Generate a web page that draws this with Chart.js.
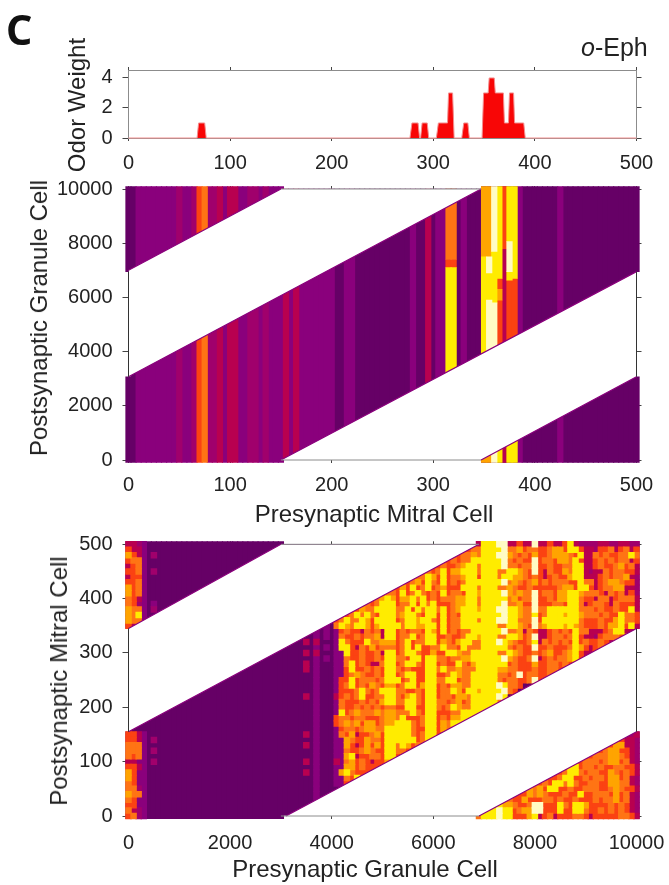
<!DOCTYPE html>
<html>
<head>
<meta charset="utf-8">
<title>o-Eph</title>
<script src="https://cdn.jsdelivr.net/npm/chart.js@4/dist/chart.umd.js"></script>
<style>
    html, body { margin: 0; padding: 0; background: #fff; }
    #page { position: relative; width: 669px; height: 885px; overflow: hidden; font-family: "Liberation Sans", Arial, sans-serif; color: #222; }
    canvas { position: absolute; left: 0; }
    .note { position: absolute; white-space: nowrap; }
    .title { font-size: 24px; transform: translate(-50%, -50%); }
    .title.up { transform: translate(-50%, -50%) rotate(-90deg); }
</style>
</head>
<body>
<div id="page">
    <canvas id="odorChart" width="669" height="143" style="top:40px"></canvas>
    <canvas id="mitralChart" width="669" height="360" style="top:165px"></canvas>
    <canvas id="granuleChart" width="669" height="360" style="top:525px"></canvas>

    <div class="note" style="left:6px;top:1px;font:bold 41px 'Noto Sans';color:#111">C</div>
    <div class="note" style="left:581px;top:33px;font-size:25px"><i>o</i>-Eph</div>
    <div class="note title up" style="left:77px;top:105px">Odor Weight</div>
    <div class="note title up" style="left:39px;top:318px">Postsynaptic Granule Cell</div>
    <div class="note title" style="left:374px;top:514px">Presynaptic Mitral Cell</div>
    <div class="note title up" style="left:59px;top:681px">Postsynaptic Mitral Cell</div>
    <div class="note title" style="left:365px;top:869px">Presynaptic Granule Cell</div>
</div>

<script>
const mitralTicks = [0, 100, 200, 300, 400, 500];
const granuleTicks = [0, 2000, 4000, 6000, 8000, 10000];
const weightTicks = [0, 2, 4];

const odorCell = [0, 67.5, 69, 75, 76.5, 277, 279, 285, 286.5, 287.5, 289, 294, 295.5, 303, 305, 314, 315, 319, 320.5, 328, 330, 334, 335.5, 348, 349.5, 354, 355, 360, 361, 369, 370, 374, 375, 379, 380, 389, 390.5, 500];
const odorWeight = [0, 0, 1, 1, 0, 0, 1, 1, 0, 0, 1, 1, 0, 0, 1, 1, 3, 3, 0, 0, 1, 1, 0, 0, 3, 3, 4, 4, 3, 3, 1, 1, 3, 3, 1, 1, 0, 0];

const levelColors = ["#660066", "#8a007c", "#a0006c", "#b80050", "#fb4212", "#ff7414", "#ffa400", "#ffec00", "#fffbc4"];

// one level per mitral column, 0 to 500 in steps of 5
const mitralLevels = [
    0, 0, 1, 1, 1, 1, 1, 1, 1, 1, 2, 1, 1, 2, 4, 5, 2, 2, 3, 1,
    3, 3, 1, 1, 2, 2, 1, 2, 1, 1, 1, 3, 1, 3, 1, 1, 1, 1, 1, 1,
    1, 0, 0, 1, 1, 0, 0, 0, 0, 0, 0, 0, 0, 0, 0, 0, 1, 0, 0, 3,
    0, 1, 1, 0, 0, 0, 1, 0, 0, 0, 0, 0, 0, 0, 0, 0, 0, 1, 0, 0,
    0, 0, 0, 0, 0, 1, 0, 0, 0, 0, 0, 0, 0, 0, 0, 0, 0, 0, 0, 0, 0
];

// columns that change level along the granule axis
const patchCell =  [315, 315, 315, 320, 320, 320, 350, 350, 350, 355, 355, 355, 355, 355, 360, 360, 360, 360, 365, 365, 365, 365, 365, 370, 370, 370, 375, 375, 375, 375, 375, 380, 380, 380];
const patchFrom =  [0, 7100, 7400, 0, 7100, 7400, -90, 700, 7500, -90, 700, 5900, 6900, 7500, -90, 700, 5800, 7700, -90, 700, 5900, 6300, 6700, -90, 700, 7800, -90, 700, 6640, 6950, 8060, -90, 700, 6700];
const patchTo =    [7100, 7400, 10000, 7100, 7400, 10000, 700, 7500, 10090, 700, 5900, 6900, 7500, 10090, 700, 5800, 7700, 10090, 700, 5900, 6300, 6700, 10090, 700, 7800, 10090, 700, 6640, 6950, 8060, 10090, 700, 6700, 10090];
const patchLevel = [7, 4, 5, 7, 4, 5, 6, 7, 6, 6, 8, 7, 8, 6, 8, 8, 7, 8, 7, 4, 6, 4, 7, 3, 3, 4, 7, 4, 7, 8, 7, 7, 4, 7];

// granule cells 0 to 500 along x, rows run from mitral 500 down to 0
const lowRows = [
    "3321..", "4331..", "6431.2", "4551..", "3451..", "4451.2", "3441..", "4451..", "6451..", "6451..", "5431..", "5421.1", "6551.2", "6571..", "6551..", "43....",
    "......", "......", "......", "......", "......", "......", "......", "......", "......", "......", "......", "......", "......", "......", "......", "......", "......", "......", "......",
    "4431..", "4431.2", "5551..", "5551.2", "5451..", "3311.2", "4431..", "6411..", "6411..", "5411..", "5521..", "6551..", "5411..", "4411..", "5321..", "4521.."
];

// columns 35 to 100, same row order, spaces only for reading
const highRows = [
    "...... .......... .......... ........37 7788334338 3343347322 2233223322",
    "...... .......... .......... ......4557 7778556455 4456647743 3244534534",
    "...... .......... .......... ....455657 7788654546 4456665473 3545445575",
    "...... .......... .......... ..45455777 7778545448 4554665743 3454545534",
    "...... .......... .......... 4544567757 7778554558 4454455773 3454456453",
    "...... .......... ........54 5746677757 7755776548 4354465773 2335455443",
    "...... .......... ......5576 4745567747 7757766545 4345446773 3345455632",
    "...... .......... ....456475 4745457777 7778565456 4545554475 5345665442",
    "...... .......... ..46474574 5644477757 7755654454 4444566477 4345566332",
    "...... .......... 5547457545 4745547767 7778656558 4554667765 5543545342",
    "...... ........56 7646675745 4555667757 7777564558 4454667754 4355345553",
    "...... ......5457 7745574757 4445667757 7778556448 4445547753 4554354443",
    "...... ....465577 7755747577 5745677767 7788776558 5577777755 5454454473",
    "...... ..45757547 7756775477 4745477777 7778776557 4577767765 5545447554",
    "...... 4575576477 7745776775 4745577757 7788775558 4777777754 4454467554",
    "....1. 5765776467 7775776677 4745577777 7755776548 5677767654 4454667473",
    "..1.1. 1454435453 7745455476 4745455777 7778556354 3345454755 333457733.",
    "..1.1. 1544545563 7745574577 4454457767 7755776458 3345545743 324555455.",
    "3.3... 1754447556 6645745577 4654677557 7787654457 3545454745 4454345...",
    "..1.1. 1774354645 5545747445 5755475557 7777545448 4454445764 3454......",
    "3.3... 1174454453 7745775446 4477655777 7755765445 4564456743 3445......",
    "..1.1. 1154454454 7755477477 5545566777 7778654458 3454556743 34........",
    "3.1... 1157454335 7745775477 4544754677 7777454446 4455454...",
    "3.1... 1147445454 7754544477 5755655577 7766554445 44554.....",
    "..1... 1145654454 7745774477 4457655777 7755458455 445.......",
    "..1... 1447455545 7774574477 5577455777 7754554458 4.........",
    "..1... 1457454654 6645774677 4546655777 7787554...",
    "..1... 1444575457 7755445477 4557647767 777854....",
    "3.1... 3454574455 7754675477 4554665777 7787......",
    "..1... 1544454546 7755775477 5545645777 775.......",
    "..1... 1544545454 5544774477 5457655777 77........",
    "..1... 1745655565 6655575477 4445577777",
    "..1... 4554554445 6657444577 4546677...",
    "..1... 4565646645 6677754577 46577.....",
    "..1... 1455456655 7777754477 465.......",
    "3.1... 1546344564 7777754577 4......... .......... .......... ........23",
    "..1... 1165446554 7777774577 .......... .......... .......... ......4332",
    "3.1... 1164346464 7757645... .......... .......... .......... ....466332",
    "..1... 1154456544 77554..... .......... .......... .......... ..45664432",
    "..1... 1167344554 774....... .......... .......... .......... 4555665432",
    "3.1... 3156454344 6......... .......... .......... ........45 5545664532",
    "..1... 1166454443 .......... .......... .......... ......7745 5454455443",
    "3.1... 1675444... .......... .......... .......... ....457754 5544654543",
    "..1... 1154745... .......... .......... .......... ..44577445 4554664532",
    "..1... 114....... .......... .......... .......... 4547757544 5544665532",
    "..1... .......... .......... .......... ........65 6477445445 5544565443",
    "..1... .......... .......... .......... ......4465 6544454474 4555464532",
    "..1... .......... .......... .......... ....544644 4554544544 4545564532",
    "...... .......... .......... .......... ..76654458 8444754776 4444545432",
    "...... .......... .......... .........7 7787745668 8444744775 4454545432",
    "...... .......... .......... ........57 7787744467 3453444554 3444445543"
];

// outline of the two unconnected bands
const mitralGapA = { upX: [0, 150, 347], upY: [7000, 10000, 10000], lowX: [0, 347], lowY: [3070, 10000] };
const mitralGapB = { upX: [150, 500], upY: [0, 6950], lowX: [150, 347, 500], lowY: [0, 0, 3070] };
const granuleGapA = { upX: [0, 3000, 6900], upY: [345, 500, 500], lowX: [0, 6900], lowY: [155, 500] };
const granuleGapB = { upX: [3100, 10000], upY: [0, 345], lowX: [3100, 6900, 10000], lowY: [0, 0, 155] };

const mitralRim = { x: [0, 150, null, 0, 347, null, 150, 500, null, 347, 500], y: [7000, 10000, null, 3070, 10000, null, 0, 6950, null, 0, 3070] };
const granuleRim = { x: [0, 3000, null, 0, 6900, null, 3100, 10000, null, 6900, 10000], y: [345, 500, null, 155, 500, null, 0, 345, null, 0, 155] };

function zip(xs, ys) {
    return xs.map((x, i) => ({ x: x, y: ys[i] }));
}

function lineSet(xs, ys, color, width) {
    return { type: "line", data: zip(xs, ys), borderColor: color, borderWidth: width, pointRadius: 0, fill: false, clip: 3 };
}

function gapSets(gap) {
    const up = lineSet(gap.upX, gap.upY, "#fff", 0);
    up.fill = "+1";
    up.backgroundColor = "#fff";
    return [up, lineSet(gap.lowX, gap.lowY, "#fff", 0)];
}

function frameSets(left, right, bottom, top, lowGapX, highGapX, lowGapY, highGapY, sideColor, edgeColor) {
    return [
        lineSet([left, left], [lowGapY, highGapY], sideColor, 1),
        lineSet([right, right], [lowGapY, highGapY], sideColor, 1),
        lineSet([lowGapX, highGapX], [bottom, bottom], edgeColor, 1),
        lineSet([lowGapX, highGapX], [top, top], edgeColor, 1)
    ];
}

// the bands run 2 or 3 px past the frame, except where the frame shows
function columnRanges(i, lo, hi, bleed, gapLo, gapHi) {
    if (i === 0 || i === 100) return [[lo - bleed, gapLo], [gapHi, hi + bleed]];
    if (i >= 31 && i <= 69) return [[lo, hi]];
    return [[lo - bleed, hi + bleed]];
}

function barSet(points, level, thickness) {
    return { type: "bar", data: points, backgroundColor: levelColors[level], barThickness: thickness, grouped: false, borderWidth: 0, clip: 4 };
}

function axis(id, min, max, values, size, labelled, opts) {
    const horizontal = id[0] === "x";
    return {
        type: "linear",
        position: opts.position,
        min: min,
        max: max,
        offset: false,
        afterBuildTicks: a => { a.ticks = values.map(v => ({ value: v })); },
        // fixed boxes, and no room kept for labels that hang over the ends
        afterFit: a => {
            if (horizontal) a.height = size; else a.width = size;
            a.paddingLeft = a.paddingRight = a.paddingTop = a.paddingBottom = 0;
        },
        grid: { drawOnChartArea: false, offset: false, drawTicks: true, tickLength: opts.tick, color: "#444" },
        border: { display: !!opts.border, color: opts.border || "#888" },
        ticks: {
            display: labelled,
            autoSkip: false,
            maxRotation: 0,
            padding: opts.pad || 0,
            color: "#222",
            font: { family: "Liberation Sans", size: 20 },
            callback: v => String(v)
        }
    };
}

function scales(xMin, xMax, xValues, yMin, yMax, yValues, top, bottom, xPad, border) {
    return {
        x: axis("x", xMin, xMax, xValues, bottom, true, { position: "bottom", border: border, pad: xPad, tick: 3 }),
        x2: axis("x2", xMin, xMax, xValues, top, false, { position: "top", border: border, tick: 3 }),
        y: axis("y", yMin, yMax, yValues, 128.5, true, { position: "left", border: border, pad: 10, tick: 6 }),
        y2: axis("y2", yMin, yMax, yValues, 32.5, false, { position: "right", border: border, tick: 5 })
    };
}

const baseOptions = {
    responsive: false,
    animation: false,
    devicePixelRatio: 1,
    layout: { padding: 0 },
    plugins: { legend: { display: false }, tooltip: { enabled: false } }
};

function renderOdor() {
    const odor = lineSet(odorCell, odorWeight, "#f28f8f", 1);
    odor.fill = "origin";
    odor.backgroundColor = "#f80606";
    new Chart(document.getElementById("odorChart"), {
        type: "bar",
        data: { datasets: [odor] },
        options: Object.assign({}, baseOptions, {
            scales: scales(0, 500, mitralTicks, 0, 4.53, weightTicks, 30, 45, 10, "#8c8c8c")
        })
    });
}

function renderMitral() {
    const points = levelColors.map(() => []);
    mitralLevels.forEach((level, i) => {
        columnRanges(i, 0, 10000, 90, 3070, 6950).forEach(r => points[level].push({ x: i * 5, y: r }));
    });
    patchCell.forEach((cell, i) => {
        points[patchLevel[i]].push({ x: cell, y: [patchFrom[i], patchTo[i]] });
    });

    const levels = points.map((p, level) => barSet(p, level, 5.6)).reverse();
    const datasets = [].concat(
        frameSets(0, 500, 0, 10000, 150, 347, 3070, 6950, "#333", "#8c8c8c"),
        [lineSet(mitralRim.x, mitralRim.y, levelColors[1], 1.2)],
        gapSets(mitralGapA),
        gapSets(mitralGapB),
        levels
    );
    new Chart(document.getElementById("mitralChart"), {
        type: "bar",
        data: { datasets: datasets },
        options: Object.assign({}, baseOptions, {
            scales: scales(0, 500, mitralTicks, 0, 10000, granuleTicks, 24, 65, 10)
        })
    });
}

function cellSet(points, level) {
    return {
        type: "scatter",
        data: points,
        showLine: false,
        pointStyle: "rect",
        pointRadius: 4.6,
        pointBorderWidth: 0,
        pointBackgroundColor: levelColors[level],
        clip: 5
    };
}

function renderGranule() {
    const base = [];
    for (let i = 0; i <= 100; i++) {
        columnRanges(i, 0, 500, 5, 155, 345).forEach(r => base.push({ x: i * 100, y: r }));
    }

    const cells = levelColors.map(() => []);
    const addRow = (text, row, firstCol) => {
        text.replace(/ /g, "").split("").forEach((ch, i) => {
            if (ch !== ".") cells[Number(ch)].push({ x: (firstCol + i) * 100, y: (50 - row) * 10 });
        });
    };
    lowRows.forEach((text, row) => addRow(text, row, 0));
    highRows.forEach((text, row) => addRow(text, row, 35));

    const levels = cells.map((p, level) => cellSet(p, level)).slice(1).reverse();
    const datasets = [].concat(
        frameSets(0, 10000, 0, 500, 3000, 6900, 155, 345, "#333", "#8c8c8c"),
        [lineSet(granuleRim.x, granuleRim.y, levelColors[1], 1.2)],
        gapSets(granuleGapA),
        gapSets(granuleGapB),
        levels,
        [barSet(base, 0, 5.6)]
    );
    new Chart(document.getElementById("granuleChart"), {
        type: "bar",
        data: { datasets: datasets },
        options: Object.assign({}, baseOptions, {
            scales: scales(0, 10000, granuleTicks, 0, 500, mitralTicks, 19.3, 69, 12)
        })
    });
}

renderOdor();
renderMitral();
renderGranule();
</script>
</body>
</html>
